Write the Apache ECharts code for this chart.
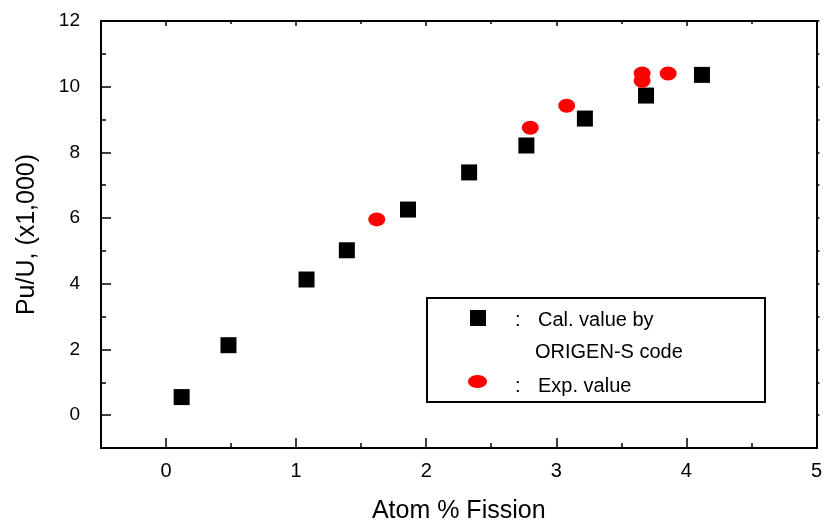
<!DOCTYPE html>
<html>
<head>
<meta charset="utf-8">
<script src="https://cdn.jsdelivr.net/npm/echarts@6/dist/echarts.min.js"></script>
<style>
  html, body { margin: 0; padding: 0; background: #fff; }
  #main { width: 825px; height: 529px; }
</style>
</head>
<body>
<div id="main"></div>
<script>
// calculated values (ORIGEN-S code)
var calX = [0.12, 0.48, 1.08, 1.39, 1.86, 2.33, 2.77, 3.22, 3.69, 4.12];
var calY = [0.55, 2.13, 4.13, 5.02, 6.26, 7.39, 8.21, 9.03, 9.73, 10.36];
// experimental values
var expX = [1.62, 2.80, 3.08, 3.66, 3.66, 3.86];
var expY = [5.96, 8.75, 9.42, 10.40, 10.18, 10.40];

var xTicks = [0, 1, 2, 3, 4, 5];
var xMinor = [0.5, 1.5, 2.5, 3.5, 4.5];
var yTicks = [0, 2, 4, 6, 8, 10, 12];
var yMinor = [1, 3, 5, 7, 9, 11];

var FONT = 'Liberation Sans, Arial, sans-serif';

function pairs(xs, ys) {
  var out = [];
  for (var i = 0; i < xs.length; i++) out.push([xs[i], ys[i]]);
  return out;
}

function xAx(pos, ticks, len, inside, labels) {
  return {
    type: 'value', position: pos, min: -0.5, max: 5,
    axisLine: { show: true, onZero: false, lineStyle: { color: '#000', width: 2 } },
    axisTick: { show: true, inside: inside, length: len, customValues: ticks,
      lineStyle: { color: '#000', width: 1.5 } },
    axisLabel: labels ? { show: true, customValues: ticks, color: '#000',
      fontFamily: FONT, fontSize: 20, margin: 13 } : { show: false },
    splitLine: { show: false },
    name: labels ? 'Atom % Fission' : '',
    nameLocation: 'middle', nameGap: 51,
    nameTextStyle: { color: '#000', fontFamily: FONT, fontSize: 25 }
  };
}

function yAx(pos, ticks, len, inside, labels) {
  return {
    type: 'value', position: pos, min: -1, max: 12,
    axisLine: { show: true, onZero: false, lineStyle: { color: '#000', width: 2 } },
    axisTick: { show: true, inside: inside, length: len, customValues: ticks,
      lineStyle: { color: '#000', width: 1.5 } },
    axisLabel: labels ? { show: true, customValues: ticks, color: '#000',
      fontFamily: FONT, fontSize: 19, margin: 21 } : { show: false },
    splitLine: { show: false },
    name: labels ? 'Pu/U, (x1,000)' : '',
    nameLocation: 'middle', nameGap: 61,
    nameTextStyle: { color: '#000', fontFamily: FONT, fontSize: 25 }
  };
}

var chart = echarts.init(document.getElementById('main'));
var option = {
  backgroundColor: '#fff',
  animation: false,
  grid: { left: 101, right: 8, top: 21, bottom: 81, containLabel: false },
  xAxis: [
    xAx('bottom', xTicks, 10, true, true),
    xAx('bottom', xMinor, 5, true, false),
    xAx('top', xTicks, 5, true, false),
    xAx('top', xMinor, 3, true, false)
  ],
  yAxis: [
    yAx('left', yTicks, 10, true, true),
    yAx('left', yMinor, 5, true, false),
    yAx('right', yTicks, 3, false, false),
    yAx('right', yMinor, 3, false, false)
  ],
  graphic: [
    { type: 'rect', shape: { x: 427, y: 298, width: 338, height: 104 },
      style: { fill: '#fff', stroke: '#000', lineWidth: 2 }, z: 100 },
    { type: 'rect', shape: { x: 470, y: 310, width: 16, height: 16 },
      style: { fill: '#000' }, z: 101 },
    { type: 'ellipse', shape: { cx: 477.5, cy: 381.5, rx: 9.5, ry: 6.5 },
      style: { fill: '#ff0000' }, z: 101 },
    { type: 'text', x: 515, y: 320, z: 101,
      style: { text: ':', fill: '#000', font: '20px ' + FONT, verticalAlign: 'middle' } },
    { type: 'text', x: 538, y: 320, z: 101,
      style: { text: 'Cal. value by', fill: '#000', font: '20px ' + FONT, verticalAlign: 'middle' } },
    { type: 'text', x: 535, y: 352, z: 101,
      style: { text: 'ORIGEN-S code', fill: '#000', font: '20px ' + FONT, verticalAlign: 'middle' } },
    { type: 'text', x: 515, y: 386, z: 101,
      style: { text: ':', fill: '#000', font: '20px ' + FONT, verticalAlign: 'middle' } },
    { type: 'text', x: 538, y: 386, z: 101,
      style: { text: 'Exp. value', fill: '#000', font: '20px ' + FONT, verticalAlign: 'middle' } }
  ],
  series: [
    {
      name: 'Cal. value by ORIGEN-S code',
      type: 'scatter',
      symbol: 'rect',
      symbolSize: 16,
      itemStyle: { color: '#000', opacity: 1 },
      data: pairs(calX, calY)
    },
    {
      name: 'Exp. value',
      type: 'scatter',
      symbol: 'circle',
      symbolSize: [17, 14],
      itemStyle: { color: '#ff0000', opacity: 1 },
      data: pairs(expX, expY)
    }
  ]
};
chart.setOption(option);
</script>
</body>
</html>
